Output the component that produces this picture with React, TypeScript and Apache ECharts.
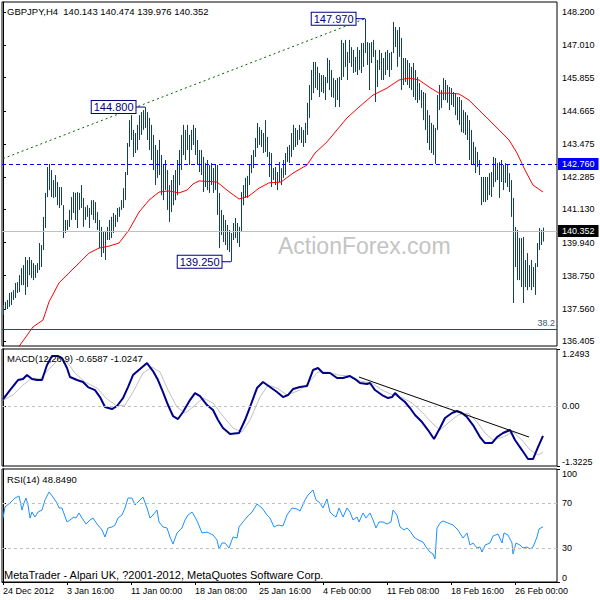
import React, { useEffect, useRef } from 'react';
import * as echarts from 'echarts';

const FONT = '"Liberation Sans", Arial, sans-serif';

// H4 bar highs / lows (bar index = position in array)
const barHigh = [
  137.70, 137.81, 137.88, 138.13, 138.16, 138.23, 138.49, 138.52, 138.77, 139.02,
  139.13, 139.42, 139.31, 139.42, 139.31, 139.20, 139.13, 139.20, 139.92, 139.85,
  140.86, 141.72, 142.65, 142.76, 142.54, 142.18, 142.36, 142.11, 141.93, 141.93,
  141.28, 140.75, 140.75, 141.11, 141.57, 141.75, 141.72, 141.75, 141.72, 142.00,
  141.54, 141.21, 141.28, 141.18, 141.46, 141.46, 141.39, 141.03, 140.75, 140.50,
  140.32, 140.32, 140.50, 140.75, 140.86, 141.00, 140.93, 141.18, 141.21, 141.46,
  141.89, 142.47, 143.51, 144.33, 144.51, 143.98, 143.87, 144.16, 144.51, 144.62,
  144.69, 144.80, 144.62, 144.41, 144.16, 143.80, 143.44, 143.26, 143.62, 143.08,
  142.72, 142.90, 142.54, 142.00, 142.18, 142.36, 142.54, 142.90, 143.26, 143.80,
  144.16, 143.98, 144.16, 143.80, 143.98, 144.16, 144.05, 143.62, 143.26, 143.26,
  143.01, 142.79, 142.90, 142.72, 142.79, 142.61, 142.72, 142.72, 141.72, 141.11,
  140.93, 140.75, 140.57, 140.39, 140.28, 140.64, 140.82, 140.64, 140.50, 141.75,
  142.00, 142.26, 142.33, 142.72, 143.08, 143.26, 143.69, 144.23, 144.08, 143.98,
  143.87, 144.33, 143.73, 143.19, 143.15, 142.61, 142.65, 142.47, 142.83, 142.61,
  142.90, 143.15, 143.37, 143.44, 143.87, 144.16, 144.05, 143.98, 144.16, 144.08,
  143.98, 144.23, 144.95, 145.59, 146.13, 146.42, 146.42, 146.24, 146.02, 145.95,
  145.95, 145.88, 146.56, 146.49, 146.13, 145.84, 145.77, 145.84, 145.88, 147.21,
  147.10, 147.21, 146.78, 147.21, 146.95, 146.85, 146.60, 146.95, 146.85, 147.10,
  147.10, 147.97, 147.13, 147.10, 147.13, 147.21, 146.85, 146.49, 146.85, 146.74,
  146.56, 146.78, 146.85, 146.74, 146.78, 147.85, 147.67, 147.56, 147.67, 147.28,
  146.56, 146.56, 146.49, 146.38, 146.24, 146.38, 146.13, 145.88, 145.66, 145.41,
  145.34, 145.30, 144.69, 144.51, 144.23, 144.16, 144.05, 145.23, 145.59, 145.41,
  145.84, 145.77, 145.59, 145.52, 145.48, 145.34, 145.30, 145.16, 145.16, 145.05,
  144.69, 144.62, 144.51, 144.33, 143.98, 143.55, 143.37, 143.19, 142.90, 142.29,
  142.29, 142.29, 142.29, 142.43, 142.47, 143.01, 142.97, 142.79, 142.83, 142.90,
  142.72, 142.79, 142.72, 142.43, 142.18, 141.54, 140.50, 140.39, 140.10, 140.10,
  140.14, 139.31, 139.56, 139.13, 139.31, 139.06, 139.20, 139.92, 140.46, 140.39,
  140.474,
];
const barLow = [
  137.34, 137.52, 137.55, 137.63, 137.70, 137.88, 137.95, 138.13, 138.16, 138.41,
  138.41, 138.06, 138.34, 138.77, 138.67, 138.59, 138.67, 138.85, 138.95, 139.06,
  139.67, 140.46, 141.57, 141.82, 141.57, 141.54, 141.57, 141.28, 141.18, 141.28,
  140.10, 140.28, 140.39, 140.50, 140.75, 141.00, 140.75, 140.46, 141.11, 141.18,
  140.50, 140.75, 140.86, 140.46, 140.93, 140.75, 140.64, 140.39, 139.74, 139.42,
  139.56, 139.31, 140.03, 140.03, 140.10, 140.28, 140.50, 140.68, 140.86, 141.11,
  141.18, 141.46, 142.36, 143.37, 143.62, 143.01, 143.15, 143.26, 143.62, 143.80,
  143.98, 144.05, 143.62, 143.26, 142.90, 142.54, 142.00, 142.26, 142.36, 141.64,
  141.46, 141.82, 141.11, 140.68, 141.03, 141.28, 141.46, 141.64, 142.00, 142.54,
  143.08, 142.90, 143.26, 142.72, 143.26, 143.44, 143.08, 142.72, 142.47, 142.36,
  141.75, 141.93, 141.82, 141.72, 142.00, 141.72, 141.82, 140.93, 139.74, 140.21,
  139.96, 139.85, 139.67, 139.60, 139.25, 140.03, 140.10, 139.92, 139.78, 140.32,
  141.28, 141.54, 141.54, 142.00, 142.43, 142.61, 143.01, 143.33, 143.44, 143.37,
  143.15, 143.19, 143.01, 142.29, 141.93, 142.18, 142.00, 141.82, 142.11, 142.00,
  142.26, 142.36, 142.83, 142.79, 143.01, 143.26, 143.37, 143.44, 143.62, 143.51,
  143.37, 143.51, 143.80, 144.41, 145.05, 145.30, 145.48, 145.41, 145.16, 145.34,
  145.30, 145.05, 145.66, 145.41, 145.16, 145.13, 144.80, 145.05, 144.80, 145.77,
  145.88, 146.24, 145.77, 146.38, 146.24, 146.02, 146.06, 145.95, 146.13, 146.02,
  146.24, 146.74, 146.31, 145.41, 146.38, 146.60, 144.98, 145.52, 146.13, 145.77,
  145.77, 145.95, 146.13, 145.88, 146.13, 146.74, 146.95, 146.24, 146.60, 145.41,
  145.59, 145.70, 145.59, 145.48, 145.41, 145.16, 145.05, 144.95, 145.05, 144.77,
  144.33, 143.98, 143.51, 143.26, 143.15, 143.08, 142.76, 143.98, 144.69, 144.77,
  145.05, 145.05, 144.95, 144.69, 144.87, 144.80, 144.51, 144.33, 144.16, 143.90,
  143.87, 143.80, 143.62, 142.90, 142.72, 142.72, 142.43, 142.65, 142.36, 141.28,
  141.39, 141.39, 141.46, 141.64, 141.57, 141.93, 142.11, 142.18, 141.54, 142.11,
  141.82, 142.08, 141.93, 141.75, 140.86, 137.77, 139.06, 138.59, 138.59, 138.34,
  137.77, 138.34, 138.23, 138.34, 138.23, 138.34, 138.06, 139.06, 139.67, 139.85,
  139.976,
];

// moving average (red) [bar index, price]
const maLine: [number, number][] = [
  [6, 136.01], [15, 136.91], [20, 137.16], [23, 137.81], [28, 138.49], [33, 138.85],
  [38, 139.20], [43, 139.56], [48, 139.74], [53, 139.81], [58, 139.92], [63, 140.39],
  [68, 141.03], [73, 141.46], [78, 141.75], [83, 141.79], [88, 141.72], [92, 141.82],
  [95, 142.04], [98, 142.15], [107, 142.11], [112, 141.82], [118, 141.50], [123, 141.61],
  [128, 141.89], [133, 142.08], [139, 142.11], [145, 142.43], [152, 142.72], [156, 143.15],
  [162, 143.55], [167, 143.98], [172, 144.41], [178, 144.80], [185, 145.23], [192, 145.48],
  [198, 145.77], [203, 145.84], [208, 145.77], [213, 145.52], [218, 145.30], [223, 145.30],
  [228, 145.27], [233, 145.05], [238, 144.69], [242, 144.41], [248, 143.98], [253, 143.62],
  [257, 143.15], [261, 142.54], [265, 142.00], [270, 141.75],
];

const priceTrend: [number, number][] = [[0, 142.95], [181, 147.97]];
const levelBlue = 142.76;
const levelLast = 140.352;
const levelFib = 136.83;
const fibLabel = '38.2';

const annotationBars = [71, 181, 114];
const annotationPrices = [144.8, 147.97, 139.25];

const macdMain: [number, number][] = [
  [0, 0.143], [3.5, 0.347], [7.5, 0.567], [10, 0.589], [12, 0.677], [14.5, 0.589], [17, 0.567],
  [19.5, 0.567], [22, 0.897], [24.5, 1.095], [27.5, 1.095], [29.5, 1.051], [32, 0.831],
  [33.5, 0.633], [37, 0.567], [40, 0.523], [42.5, 0.413], [46, 0.347], [48.5, 0.193],
  [51, -0.026], [54.5, -0.07], [57, -0.004], [60, 0.171], [62.5, 0.413], [65, 0.677],
  [68.5, 0.809], [72, 0.941], [75, 0.765], [77.5, 0.567], [80, 0.303], [82.5, 0.018],
  [85, -0.224], [87.5, -0.29], [90, -0.136], [93.5, 0.127], [96, 0.281], [98.5, 0.215],
  [102, 0.018], [105, -0.092], [107.5, -0.312], [110, -0.488], [113.5, -0.62], [118, -0.598],
  [121, -0.312], [123.5, -0.026], [127, 0.391], [130, 0.523], [133.5, 0.413], [137, 0.303],
  [140, 0.193], [142.5, 0.237], [145, 0.369], [148.5, 0.413], [152, 0.435], [155, 0.787],
  [157.5, 0.831], [160, 0.721], [163.5, 0.721], [167, 0.611], [170, 0.611], [173.5, 0.655],
  [176, 0.589], [178.5, 0.501], [182, 0.479], [183.5, 0.501], [186, 0.347], [189.5, 0.237],
  [192.5, 0.171], [194.5, 0.193], [196, 0.281], [198.5, 0.171], [201, 0.084], [203.5, -0.048],
  [206, -0.202], [209.5, -0.356], [212.5, -0.532], [215.5, -0.73], [218.5, -0.488],
  [221, -0.268], [224.5, -0.158], [227, -0.114], [229.5, -0.158], [232, -0.246], [235, -0.422],
  [238.5, -0.686], [241, -0.818], [244.5, -0.818], [247, -0.686], [250, -0.598], [253.5, -0.532],
  [256, -0.752], [259.5, -0.972], [262.5, -1.169], [265, -1.169], [267.5, -0.906], [270, -0.6587],
];
const macdSignal: [number, number][] = [
  [0, 0.127], [5, 0.237], [10, 0.457], [14.5, 0.611], [18.5, 0.589], [23.5, 0.831], [28.5, 1.051],
  [32, 0.963], [36, 0.721], [41, 0.523], [47, 0.391], [52, 0.149], [57, -0.004], [61, 0.018],
  [65, 0.303], [70, 0.721], [74.5, 0.853], [78.5, 0.743], [82.5, 0.347], [87, -0.026],
  [91, -0.158], [95, -0.026], [100, 0.171], [105, 0.062], [109.5, -0.202], [115, -0.488],
  [119.5, -0.576], [123.5, -0.312], [128.5, 0.193], [132.5, 0.457], [137, 0.391], [142, 0.237],
  [148.5, 0.347], [152.5, 0.501], [157.5, 0.743], [162.5, 0.743], [167.5, 0.677], [173.5, 0.655],
  [178.5, 0.545], [184.5, 0.501], [189.5, 0.347], [195, 0.237], [200, 0.171], [204.5, 0.062],
  [209.5, -0.136], [214.5, -0.378], [218.5, -0.532], [222.5, -0.378], [227.5, -0.202],
  [232.5, -0.158], [237, -0.356], [241, -0.598], [245, -0.752], [250, -0.686], [255, -0.576],
  [259.5, -0.752], [263.5, -0.972], [267.5, -1.081], [270, -1.0247],
];
const macdTrend: [number, number][] = [[178, 0.633], [263, -0.686]];

const rsiLine: [number, number][] = [
  [0, 56.6], [1, 66.4], [3.5, 69.9], [6, 74.3], [8, 76.1], [9.5, 63.7], [10.5, 69.9], [11.5, 74.3],
  [12.5, 68.1], [13.5, 56.6], [14.5, 61.9], [16, 57.5], [17.5, 61.9], [19.5, 63.7], [21, 72.6],
  [23, 79.6], [25, 75.2], [27, 69.9], [28, 65.5], [29.5, 65.5], [32, 53.1], [33.5, 54.9],
  [35.5, 57.5], [36.5, 56.6], [38, 61.1], [39.5, 56.6], [41.5, 51.3], [43.5, 54.9], [45, 56.6],
  [47, 51.3], [49.5, 46.0], [51, 39.8], [52.5, 47.8], [54.5, 48.7], [56, 50.4], [57.5, 56.6],
  [59.5, 59.3], [61, 65.5], [62.5, 74.3], [64.5, 74.3], [66, 68.1], [67.5, 70.8], [70, 75.2],
  [72, 65.5], [73.5, 56.6], [75, 59.3], [77, 63.7], [78, 53.1], [80, 48.7], [82, 47.8],
  [83.5, 39.8], [85, 33.6], [87, 43.4], [89.5, 47.8], [91, 54.9], [92.5, 59.3], [94.5, 61.9],
  [96, 57.5], [97.5, 52.2], [99.5, 43.4], [102, 44.2], [105, 41.6], [107, 37.2], [108, 29.2],
  [109.5, 34.5], [111, 34.5], [113, 30.1], [115, 39.8], [117, 38.9], [118, 48.7], [120, 53.1],
  [122, 57.5], [124.5, 61.9], [127, 69.0], [129.5, 65.5], [132, 59.3], [133.5, 56.6],
  [135.5, 48.7], [137.5, 50.4], [140, 49.6], [142, 59.3], [144.5, 65.5], [147, 64.6],
  [148.5, 62.8], [151, 72.6], [152.5, 77.0], [155, 81.4], [156.5, 72.6], [158.5, 69.9],
  [160, 65.5], [162, 73.5], [163.5, 61.9], [165, 59.3], [166.5, 57.5], [168, 65.5], [170, 57.5],
  [172, 65.5], [173.5, 61.9], [175, 54.9], [177, 57.5], [178, 53.1], [180, 61.1], [181.5, 56.6],
  [183.5, 61.1], [185, 54.9], [186.5, 47.8], [188, 53.1], [190, 53.1], [192, 51.3], [194, 53.1],
  [195, 63.7], [197, 59.3], [198.5, 48.7], [200.5, 46.0], [202, 47.8], [203.5, 45.1],
  [205.5, 39.8], [207.5, 37.2], [210, 35.4], [211.5, 31.0], [213.5, 26.5], [215, 24.8],
  [216, 20.4], [217, 47.8], [218.5, 52.2], [220, 54.0], [222.5, 52.2], [225, 50.4], [227.5, 46.0],
  [230, 38.9], [232, 43.4], [233.5, 32.7], [235, 34.5], [237, 30.1], [238.5, 31.0], [239.5, 26.5],
  [241, 32.7], [243.5, 34.5], [245, 40.7], [247.5, 42.5], [249.5, 34.5], [250.5, 43.4],
  [252.5, 41.6], [254.5, 34.5], [255, 24.8], [256.5, 34.5], [258.5, 32.7], [260, 30.1],
  [262, 31.0], [263.5, 29.2], [265, 31.0], [267, 39.8], [268, 46.9], [270, 48.849],
];
const rsiLevels = [70, 30];

const priceTicks = [148.2, 147.01, 145.855, 144.665, 143.475, 142.285, 141.13, 139.94, 138.75, 137.56, 136.405];
const macdMax = 1.2493;
const macdMin = -1.3225;
const macdMidTicks = [0];
const rsiMax = 100;
const rsiMin = 0;
const rsiMidTicks = [70, 30];
const timeTickBars = [0, 32, 64, 96, 128, 160, 192, 224, 256];
const timeTickLabels = [
  '24 Dec 2012', '3 Jan 16:00', '11 Jan 00:00', '18 Jan 08:00', '25 Jan 16:00',
  '4 Feb 00:00', '11 Feb 08:00', '18 Feb 16:00', '26 Feb 00:00',
];

const headerText = 'GBPJPY,H4  140.143 140.474 139.976 140.352';
const macdTitle = 'MACD(12,26,9) -0.6587 -1.0247';
const rsiTitle = 'RSI(14) 48.8490';
const copyright = 'MetaTrader - Alpari UK, ?2001-2012, MetaQuotes Software Corp.';
const watermark = 'ActionForex.com';

export default function App() {
  const ref = useRef<HTMLDivElement>(null);
  useEffect(() => {
    if (!ref.current) return;
    const chart = echarts.init(ref.current, null, { renderer: 'svg' });
    const gridBase = { left: 2, right: 43, show: true, borderColor: '#000', borderWidth: 1 };
    const labelBase = { color: '#000', fontSize: 9, fontFamily: FONT };
    const xAxes = [0, 1, 2].map((g) => ({
      type: 'value', gridIndex: g, min: -0.5, max: 277,
      axisLine: { show: g === 2, lineStyle: { color: '#000', width: 1 } },
      axisTick: g === 2
        ? { show: true, customValues: timeTickBars, length: 3, lineStyle: { color: '#000' } }
        : { show: false },
      axisLabel: g === 2
        ? {
            ...labelBase, customValues: timeTickBars, align: 'left', margin: 4,
            formatter: (v: number) => timeTickLabels[timeTickBars.indexOf(v)] ?? '',
          }
        : { show: false },
      splitLine: { show: false },
    }));
    const yAxisDef = (
      gridIndex: number, min: number, max: number, ticks: number[],
      fmt: (v: number) => string, vAlign: string, showLine: boolean,
    ) => ({
      type: 'value', position: 'right', gridIndex, min, max,
      axisLine: { show: showLine, lineStyle: { color: '#000', width: 1 } },
      splitLine: { show: false },
      axisTick: { show: true, customValues: ticks, length: 3, lineStyle: { color: '#000' } },
      axisLabel: { ...labelBase, customValues: ticks, margin: 5, verticalAlign: vAlign, formatter: fmt },
    });
    const macdFmt = (v: number) => (v === 0 ? '0.00' : v.toFixed(4));
    const rsiFmt = (v: number) => String(v);
    const annoSeries = annotationBars.map((b, k) => ({
      type: 'line', xAxisIndex: 0, yAxisIndex: 0, z: 4,
      data: [
        {
          value: [b - 4.5, annotationPrices[k]],
          label: {
            show: true, position: 'left', distance: 0,
            formatter: annotationPrices[k].toFixed(3),
            color: '#000080', fontSize: 11, fontFamily: FONT,
            backgroundColor: '#fff', borderColor: '#000080', borderWidth: 1,
            padding: [1, 2, 0, 2],
          },
        },
        { value: [b, annotationPrices[k]] },
      ],
      symbol: 'circle', symbolSize: 1, showSymbol: true,
      itemStyle: { color: 'rgba(0,0,0,0)' },
      lineStyle: { color: '#000080', width: 1 },
    }));
    const option: any = {
      animation: false,
      backgroundColor: '#fff',
      grid: [
        { ...gridBase, top: 2, height: 344 },
        { ...gridBase, top: 349, height: 117 },
        { ...gridBase, top: 469, height: 113 },
      ],
      xAxis: xAxes,
      yAxis: [
        yAxisDef(0, 136.227, 148.569, priceTicks, (v) => v.toFixed(3), 'middle', true),
        yAxisDef(1, macdMin, macdMax, macdMidTicks, macdFmt, 'middle', true),
        yAxisDef(2, rsiMin, rsiMax, rsiMidTicks, rsiFmt, 'middle', true),
        yAxisDef(1, macdMin, macdMax, [macdMax], macdFmt, 'top', false),
        yAxisDef(1, macdMin, macdMax, [macdMin], macdFmt, 'bottom', false),
        yAxisDef(2, rsiMin, rsiMax, [rsiMax], rsiFmt, 'top', false),
        yAxisDef(2, rsiMin, rsiMax, [rsiMin], rsiFmt, 'bottom', false),
      ],
      series: [
        {
          type: 'custom', xAxisIndex: 0, yAxisIndex: 0, z: 3, clip: true,
          data: barHigh.map((h, i) => [i, barLow[i], h]),
          encode: { x: 0, y: [1, 2] },
          renderItem: (_p: any, api: any) => {
            const lo = api.coord([api.value(0), api.value(1)]);
            const hi = api.coord([api.value(0), api.value(2)]);
            const x = Math.round(lo[0]) + 0.5;
            return {
              type: 'line',
              shape: { x1: x, y1: lo[1], x2: x, y2: hi[1] },
              style: { stroke: '#12405e', lineWidth: 1 },
            };
          },
        },
        {
          type: 'line', xAxisIndex: 0, yAxisIndex: 0, data: maLine, showSymbol: false, z: 4,
          lineStyle: { color: '#ff0000', width: 1 }, clip: true,
          markLine: {
            silent: true, symbol: ['none', 'none'], animation: false,
            data: [
              {
                yAxis: levelBlue,
                lineStyle: { color: '#0000ff', type: [4, 3], width: 1 },
                label: {
                  show: true, position: 'end', distance: 1, formatter: levelBlue.toFixed(3),
                  color: '#fff', backgroundColor: '#0000ff', padding: [2, 4, 1, 4],
                  fontSize: 9, fontFamily: FONT,
                },
              },
              {
                yAxis: levelLast,
                lineStyle: { color: '#c0c0c0', type: 'solid', width: 1 },
                label: {
                  show: true, position: 'end', distance: 1, formatter: levelLast.toFixed(3),
                  color: '#fff', backgroundColor: '#000', padding: [2, 4, 1, 4],
                  fontSize: 9, fontFamily: FONT,
                },
              },
              {
                yAxis: levelFib,
                lineStyle: { color: '#2f4f4f', type: 'solid', width: 1 },
                label: {
                  show: true, position: 'insideEndTop', distance: 2, formatter: fibLabel,
                  color: '#3c5a6e', fontSize: 9, fontFamily: FONT,
                },
              },
            ],
          },
        },
        {
          type: 'line', xAxisIndex: 0, yAxisIndex: 0, data: priceTrend, showSymbol: false, z: 4,
          lineStyle: { color: '#006400', width: 1, type: [2, 3] },
        },
        ...annoSeries,
        {
          type: 'line', xAxisIndex: 1, yAxisIndex: 1, data: macdSignal, showSymbol: false, z: 3,
          lineStyle: { color: '#c0c0c0', width: 1 }, clip: true,
          markLine: {
            silent: true, symbol: ['none', 'none'],
            data: [{ yAxis: 0, lineStyle: { color: '#c0c0c0', type: [3, 3], width: 1 }, label: { show: false } }],
          },
        },
        {
          type: 'line', xAxisIndex: 1, yAxisIndex: 1, data: macdMain, showSymbol: false, z: 4,
          lineStyle: { color: '#00008b', width: 2 }, clip: true,
        },
        {
          type: 'line', xAxisIndex: 1, yAxisIndex: 1, data: macdTrend, showSymbol: false, z: 5,
          lineStyle: { color: '#000', width: 1 },
        },
        {
          type: 'line', xAxisIndex: 2, yAxisIndex: 2, data: rsiLine, showSymbol: false, z: 4,
          lineStyle: { color: '#1e90ff', width: 1 }, clip: true,
          markLine: {
            silent: true, symbol: ['none', 'none'],
            data: rsiLevels.map((l) => ({
              yAxis: l, lineStyle: { color: '#c0c0c0', type: [3, 3], width: 1 }, label: { show: false },
            })),
          },
        },
      ],
      graphic: [
        {
          type: 'text', x: 278, y: 246, z: 1,
          style: { text: watermark, fill: '#c4c4c4', font: `23px ${FONT}`, verticalAlign: 'middle' },
        },
        {
          type: 'text', x: 7, y: 11, z: 10,
          style: { text: headerText, fill: '#000', font: `9.5px ${FONT}`, verticalAlign: 'middle' },
        },
        {
          type: 'text', x: 7, y: 358, z: 10,
          style: { text: macdTitle, fill: '#000', font: `9.5px ${FONT}`, verticalAlign: 'middle' },
        },
        {
          type: 'text', x: 7, y: 479, z: 10,
          style: { text: rsiTitle, fill: '#000', font: `9.5px ${FONT}`, verticalAlign: 'middle' },
        },
        {
          type: 'text', x: 4, y: 575, z: 10,
          style: { text: copyright, fill: '#000', font: `11px ${FONT}`, verticalAlign: 'middle' },
        },
      ],
    };
    chart.setOption(option);
    return () => chart.dispose();
  }, []);
  return (
    <div
      ref={ref}
      style={{ position: 'fixed', left: 0, top: 0, width: 600, height: 600, background: '#fff' }}
    />
  );
}
